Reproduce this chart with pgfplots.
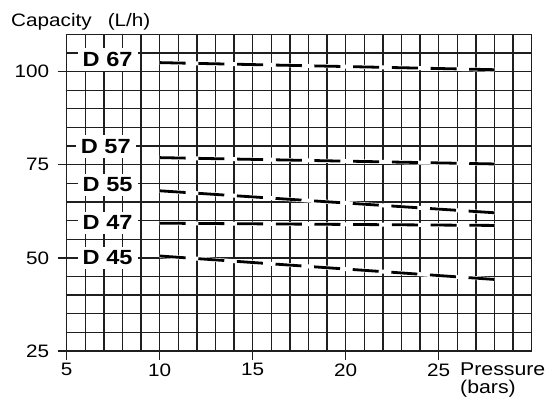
\documentclass[border=0pt]{standalone}
\usepackage{fontspec}
\setmainfont{Liberation Sans}
\usepackage{graphicx}
\usepackage{pgfplots}
\pgfplotsset{compat=1.18}
\newcommand{\sx}[1]{\scalebox{1.15}[1]{#1}}
\begin{document}
\begin{tikzpicture}[
  lbl/.style={fill=white, inner xsep=5pt, inner ysep=4pt, font=\bfseries\fontsize{20.5}{20.5}\selectfont},
  wl/.style={white, line width=4pt},
  bl/.style={black, line width=2.8pt, dash pattern=on 26pt off 12.7pt},
]
\useasboundingbox (-66.7pt,-52pt) rectangle ++(550pt,403pt);
\begin{axis}[
  at={(0,0)}, anchor=south west,
  scale only axis, width=465pt, height=316.7pt,
  xmin=5, xmax=30, ymin=25, ymax=110,
  xtick={5,10,15,20,25}, ytick={25,50,75,100},
  minor xtick={6,...,30}, minor ytick={30,35,...,110},
  grid=both,
  major grid style={black!88, line width=1.35pt},
  minor grid style={black!88, line width=1.35pt},
  axis line style={line width=1.35pt, black!88},
  tick align=outside, major tick length=9pt, minor tick length=0pt,
  xtick pos=bottom, ytick pos=left,
  tick style={line width=1.35pt, black!88},
  /pgf/number format/assume math mode=true,
  tick label style={font=\fontsize{18}{18}\selectfont},
  yticklabel style={xshift=-5pt},
  xticklabel={\sx{\pgfmathprintnumber{\tick}}},
  yticklabel={\sx{\pgfmathprintnumber{\tick}}},
  clip=false,
]
\node[lbl] at (axis cs:7.2,103.2) {\sx{D 67}};
\node[lbl] at (axis cs:7.1,79.9) {\sx{D 57}};
\node[lbl] at (axis cs:7.2,69.6) {\sx{D 55}};
\node[lbl] at (axis cs:7.2,59.4) {\sx{D 47}};
\node[lbl] at (axis cs:7.2,50.0) {\sx{D 45}};
% D 67
\addplot[wl] coordinates {(10,102.4) (28,100.5)};
\addplot[bl] coordinates {(10,102.4) (28,100.5)};
% D 57
\addplot[wl] coordinates {(10,76.9) (28,75.2)};
\addplot[bl] coordinates {(10,76.9) (28,75.2)};
% D 55
\addplot[wl] coordinates {(10,68.0) (28,62.1)};
\addplot[bl] coordinates {(10,68.0) (28,62.1)};
% D 47
\addplot[wl] coordinates {(10,59.3) (28,58.7)};
\addplot[bl] coordinates {(10,59.3) (28,58.7)};
% D 45
\addplot[wl] coordinates {(10,50.5) (28,44.2)};
\addplot[bl] coordinates {(10,50.5) (28,44.2)};
\end{axis}
\node[anchor=base west, inner sep=0pt, font=\fontsize{18}{18}\selectfont] at (-55.7pt,324pt) {\sx{Capacity\hspace{14pt}(L/h)}};
\node[anchor=north west, inner sep=0pt, align=left, font=\fontsize{18.5}{17.5}\selectfont] at (393.3pt,-12pt) {\sx{Pressure}\\\sx{(bars)}};
\end{tikzpicture}
\end{document}
